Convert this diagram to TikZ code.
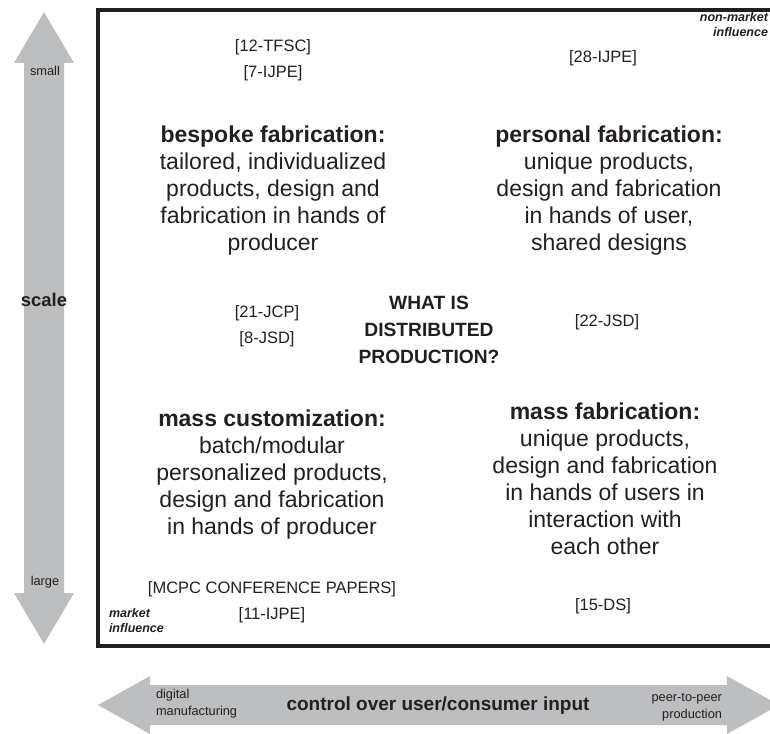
\documentclass[tikz,border=0pt]{standalone}
\usepackage{fontspec}
\setmainfont{Liberation Sans}
\definecolor{arrowgrey}{HTML}{BDBEC0}
\definecolor{ink}{HTML}{231F20}
\begin{document}
\begin{tikzpicture}[x=1pt,y=-1pt,
  every node/.style={text=ink,inner sep=0pt,outer sep=0pt},
  block/.style={align=center,font=\fontsize{23}{27}\selectfont},
  ref/.style={align=center,font=\fontsize{16.5}{26}\selectfont},
  centre/.style={align=center,font=\fontsize{19.2}{27}\selectfont\bfseries},
  tiny/.style={font=\fontsize{12.8}{17}\selectfont},
  infl/.style={font=\fontsize{12.5}{15}\selectfont\bfseries\itshape},
  arrowshape/.style={fill=arrowgrey,draw=none}]
\useasboundingbox (0,0) rectangle (770,733);
\begin{scope}
\clip (0,0) rectangle (770,733);
% vertical scale arrow
\fill[arrowshape] (44,12) -- (74,63) -- (64,63) -- (64,593) -- (74,593) -- (44,644)
  -- (14,593) -- (24,593) -- (24,63) -- (14,63) -- cycle;
% horizontal control arrow
\fill[arrowshape] (98,705) -- (150,676) -- (150,685) -- (727,685) -- (727,676) -- (779,705)
  -- (727,734) -- (727,725) -- (150,725) -- (150,734) -- cycle;
% frame
\draw[ink,line width=4.5pt] (98,10) rectangle (820,646);
\end{scope}
% arrow labels
\node[tiny] (small) at (45,71) {small};
\node[tiny] (large) at (45,582) {large};
\node[font=\fontsize{18.4}{20}\selectfont\bfseries] (scale) at (44,300) {scale};
\node[tiny,align=left,anchor=west] (digital) at (156,704) {digital\\manufacturing};
\node[font=\fontsize{19}{20}\selectfont\bfseries] (control) at (438,706) {control over user/consumer input};
\node[tiny,align=right,anchor=east] (p2p) at (722,707) {peer-to-peer\\production};
% influence corners
\node[infl,align=right,anchor=east] (nonmarket) at (768,25) {non-market\\influence};
\node[infl,align=left,anchor=west] (market) at (109,621) {market\\influence};
% references
\node[ref] (r1) at (273,60) {{[12-TFSC]}\\{[7-IJPE]}};
\node[ref] (r2) at (603,58) {{[28-IJPE]}};
\node[ref] (r3) at (267,326) {{[21-JCP]}\\{[8-JSD]}};
\node[ref] (r4) at (607,322) {{[22-JSD]}};
\node[ref] (r5) at (272,602) {{[MCPC CONFERENCE PAPERS]}\\{[11-IJPE]}};
\node[ref] (r6) at (603,606) {{[15-DS]}};
% centre
\node[centre] (what) at (429,330) {WHAT IS\\DISTRIBUTED\\PRODUCTION?};
% quadrants
\node[block] (bespoke) at (273,191) {\textbf{bespoke fabrication:}\\tailored, individualized\\products, design and\\fabrication in hands of\\producer};
\node[block] (personal) at (609,191) {\textbf{personal fabrication:}\\unique products,\\design and fabrication\\in hands of user,\\shared designs};
\node[block] (masscust) at (272,475) {\textbf{mass customization:}\\batch/modular\\personalized products,\\design and fabrication\\in hands of producer};
\node[block] (massfab) at (605,478.5) {\textbf{mass fabrication:}\\unique products,\\design and fabrication\\in hands of users in\\interaction with\\each other};
\end{tikzpicture}
\end{document}
